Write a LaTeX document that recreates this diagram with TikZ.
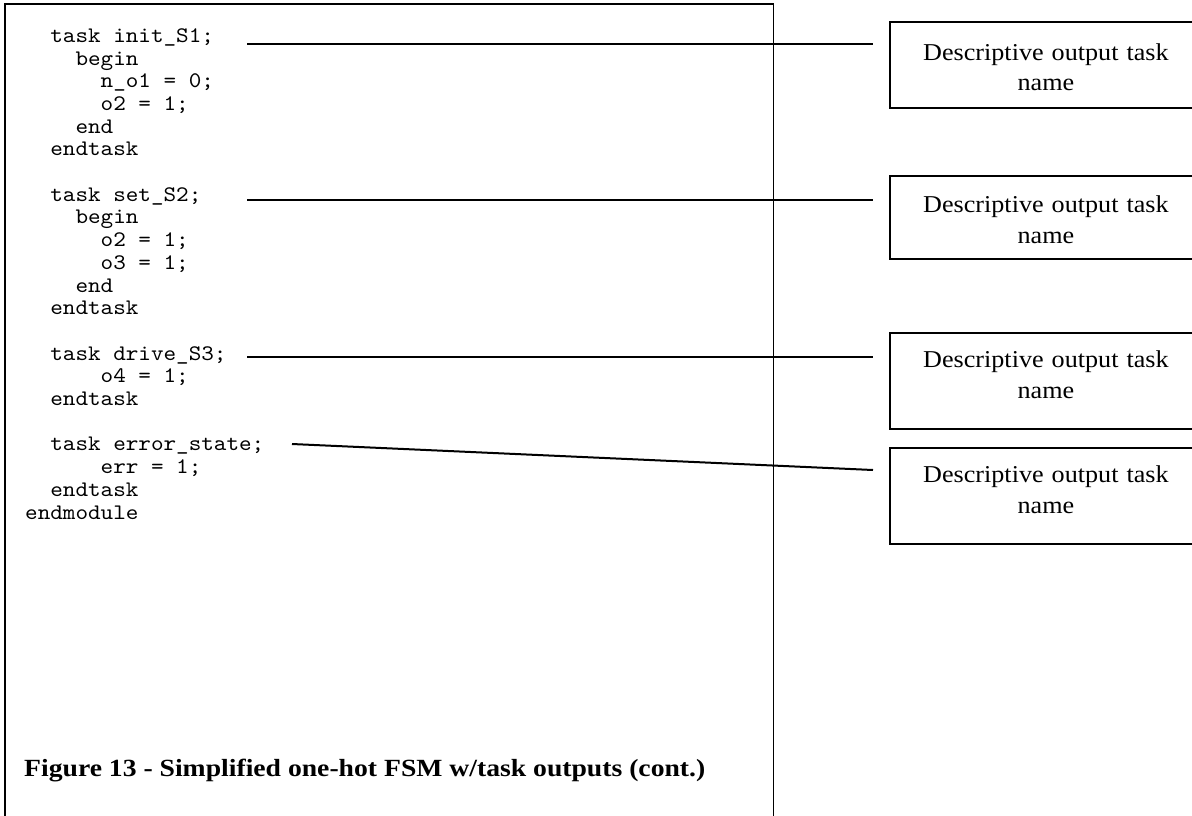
\documentclass[tikz,border=0pt]{standalone}
\usepackage{fontspec}
\setmainfont{Liberation Serif}
% typewriter face for the listing, serif faces for the callouts and caption
\newfontfamily\codefont[Extension=.otf, FakeStretch=1.08, WordSpace={1.08,0,0}]{lmmono10-regular}
\newfontfamily\labelfont[FakeStretch=1.08]{Liberation Serif}
\newfontfamily\capfont[FakeStretch=1.12]{Liberation Serif}
\newlength\colw
\setlength\colw{12.587pt}% one character cell of the listing font (0.525 x 22.2pt x 1.08)
\newcommand\ind[1]{\hspace*{#1\colw}}

\begin{document}
\begin{tikzpicture}[x=1pt, y=-1pt,
  frameline/.style={draw=black, line width=1.8pt},
  conn/.style={draw=black, line width=2pt},
  descbox/.style={draw=black, line width=1.9pt, anchor=north west,
    inner xsep=0pt, inner ysep=0pt, text width=312pt, align=center,
    font=\labelfont\fontsize{24.2}{30.5}\selectfont},
  listing/.style={anchor=base west, inner sep=0pt, text width=700pt, align=left,
    font=\codefont\fontsize{22.2}{22.7}\selectfont},
  figcap/.style={anchor=base west, inner sep=0pt,
    font=\capfont\bfseries\fontsize{24.7}{28}\selectfont}]

\useasboundingbox (0,0) rectangle (1192,815);

% open frame around the code listing
\draw[frameline] (5,830) -- (5,4) -- (773.5,4) -- (773.5,830);

% Verilog task listing
\node[listing] (src) at (25,42.3) {%
  \ind{2}task\ind{1}init\_S1;\\
  \ind{4}begin\\
  \ind{6}n\_o1\ind{1}=\ind{1}0;\\
  \ind{6}o2\ind{1}=\ind{1}1;\\
  \ind{4}end\\
  \ind{2}endtask\\
  \mbox{}\\
  \ind{2}task\ind{1}set\_S2;\\
  \ind{4}begin\\
  \ind{6}o2\ind{1}=\ind{1}1;\\
  \ind{6}o3\ind{1}=\ind{1}1;\\
  \ind{4}end\\
  \ind{2}endtask\\
  \mbox{}\\
  \ind{2}task\ind{1}drive\_S3;\\
  \ind{6}o4\ind{1}=\ind{1}1;\\
  \ind{2}endtask\\
  \mbox{}\\
  \ind{2}task\ind{1}error\_state;\\
  \ind{6}err\ind{1}=\ind{1}1;\\
  \ind{2}endtask\\
  endmodule};

% callout boxes
\node[descbox, text height=38.3pt, text depth=47.7pt] (d1) at (889,21) {Descriptive output task\\name};
\node[descbox, text height=36.7pt, text depth=46.6pt] (d2) at (889,175) {Descriptive output task\\name};
\node[descbox, text height=34.7pt, text depth=61.6pt] (d3) at (889,332) {Descriptive output task\\name};
\node[descbox, text height=34.7pt, text depth=61.3pt] (d4) at (889,447) {Descriptive output task\\name};

% leader lines from the task headers to the callouts
\coordinate (s1) at (247,44.3);
\coordinate (s2) at (247,199.8);
\coordinate (s3) at (247,356.5);
\coordinate (s4) at (292,444);
\coordinate (e1) at ([xshift=-16pt]d1.west |- s1);
\coordinate (e2) at ([xshift=-16pt]d2.west |- s2);
\coordinate (e3) at ([xshift=-16pt]d3.west |- s3);
\coordinate (e4) at (873,470);
\draw[conn] (s1) -- (e1);
\draw[conn] (s2) -- (e2);
\draw[conn] (s3) -- (e3);
\draw[conn] (s4) -- (e4);

% caption
\node[figcap] (fig) at (24,776.7) {Figure 13 - Simplified one-hot FSM w/task outputs (cont.)};
\end{tikzpicture}
\end{document}
